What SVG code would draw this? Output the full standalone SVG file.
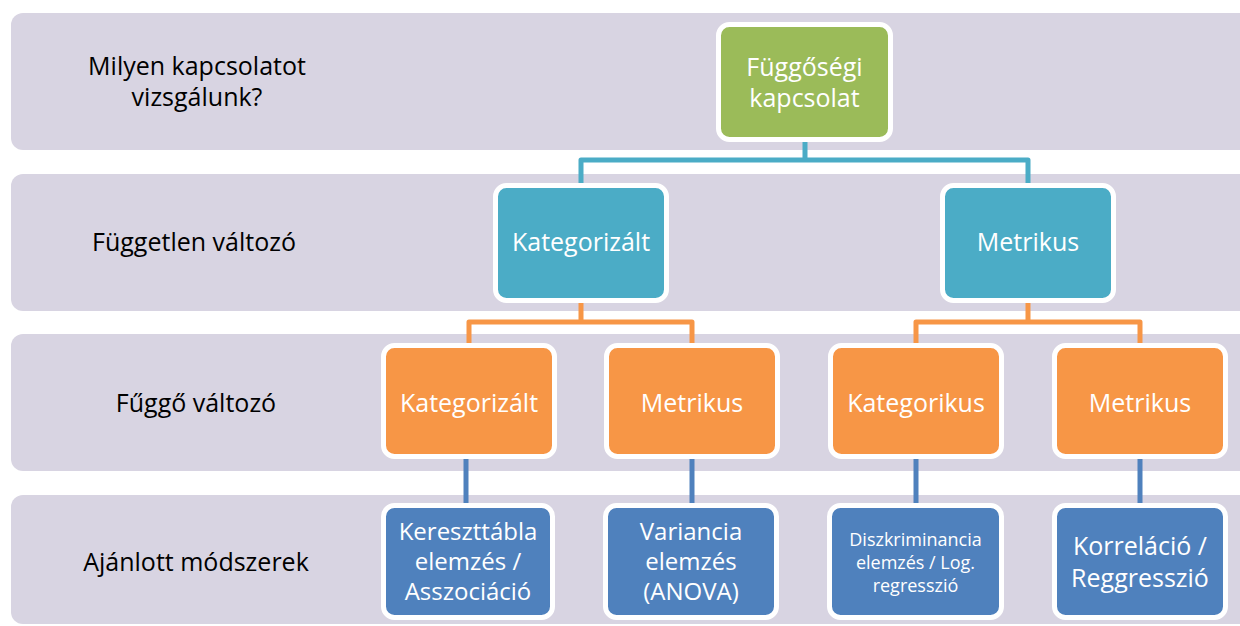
<svg xmlns="http://www.w3.org/2000/svg" width="1240" height="626" viewBox="0 0 1240 626">
<style>
.band{fill:#D8D4E2}
.lbl{font-family:"Open Sans","Liberation Sans",sans-serif;font-size:25px;fill:#000;text-anchor:middle}
.box{stroke:#fff;stroke-width:5}
.t{font-family:"Open Sans","Liberation Sans",sans-serif;font-size:25px;fill:#fff;text-anchor:middle}
.tm{font-size:24px}
.ts{font-size:18px}
.c{fill:none;stroke-width:5;stroke-linejoin:round}
</style>
<rect width="1240" height="626" fill="#fff"/>
<g id="bands">
<rect class="band" x="11" y="13" width="1250" height="137" rx="12"/>
<rect class="band" x="11" y="174" width="1250" height="137" rx="12"/>
<rect class="band" x="11" y="334" width="1250" height="137" rx="12"/>
<rect class="band" x="11" y="495" width="1250" height="129" rx="12"/>
</g>
<g id="row-labels">
<text class="lbl" x="197" y="75">Milyen kapcsolatot</text>
<text class="lbl" x="197" y="106">vizsgálunk?</text>
<text class="lbl" x="194" y="251">Független változó</text>
<text class="lbl" x="196" y="412">Fűggő változó</text>
<text class="lbl" x="196" y="571">Ajánlott módszerek</text>
</g>
<g id="connectors">
<path class="c" stroke="#4BACC6" d="M805 140V160H581V185M805 160H1028V185"/>
<path class="c" stroke="#F79646" d="M581 301V322H469V345M581 322H692V345"/>
<path class="c" stroke="#F79646" d="M1028 301V322H916V345M1028 322H1140V345"/>
<path class="c" stroke="#4F81BD" d="M466 457V505"/>
<path class="c" stroke="#4F81BD" d="M692 457V505"/>
<path class="c" stroke="#4F81BD" d="M916 457V505"/>
<path class="c" stroke="#4F81BD" d="M1140 457V505"/>
</g>
<g id="n-fuggosegi">
<rect class="box" x="718.5" y="24.5" width="172" height="115" rx="11" fill="#9BBB59"/>
<text class="t" x="804.5" y="76">Függőségi</text>
<text class="t" x="804.5" y="107">kapcsolat</text>
</g>
<g id="n-fuggetlen-kat">
<rect class="box" x="495.5" y="185.5" width="171" height="115" rx="11" fill="#4BACC6"/>
<text class="t" x="581" y="251">Kategorizált</text>
</g>
<g id="n-fuggetlen-met">
<rect class="box" x="942.5" y="185.5" width="171" height="115" rx="11" fill="#4BACC6"/>
<text class="t" x="1028" y="251">Metrikus</text>
</g>
<g id="n-fuggo-kat1">
<rect class="box" x="383.5" y="345.5" width="171" height="111" rx="11" fill="#F79646"/>
<text class="t" x="469" y="412">Kategorizált</text>
</g>
<g id="n-fuggo-met1">
<rect class="box" x="606.5" y="345.5" width="171" height="111" rx="11" fill="#F79646"/>
<text class="t" x="692" y="412">Metrikus</text>
</g>
<g id="n-fuggo-kat2">
<rect class="box" x="830.5" y="345.5" width="171" height="111" rx="11" fill="#F79646"/>
<text class="t" x="916" y="412">Kategorikus</text>
</g>
<g id="n-fuggo-met2">
<rect class="box" x="1054.5" y="345.5" width="171" height="111" rx="11" fill="#F79646"/>
<text class="t" x="1140" y="412">Metrikus</text>
</g>
<g id="m-kereszt">
<rect class="box" x="383.5" y="505.5" width="169" height="112" rx="11" fill="#4F81BD"/>
<text class="t tm" x="468" y="540">Kereszttábla</text>
<text class="t tm" x="468" y="570">elemzés /</text>
<text class="t tm" x="468" y="600">Asszociáció</text>
</g>
<g id="m-variancia">
<rect class="box" x="605.5" y="505.5" width="171" height="112" rx="11" fill="#4F81BD"/>
<text class="t tm" x="691" y="540">Variancia</text>
<text class="t tm" x="691" y="570">elemzés</text>
<text class="t tm" x="691" y="600">(ANOVA)</text>
</g>
<g id="m-diszkrim">
<rect class="box" x="829.5" y="505.5" width="172" height="112" rx="11" fill="#4F81BD"/>
<text class="t ts" x="915.5" y="546">Diszkriminancia</text>
<text class="t ts" x="915.5" y="569">elemzés / Log.</text>
<text class="t ts" x="915.5" y="592">regresszió</text>
</g>
<g id="m-korrelacio">
<rect class="box" x="1054.5" y="505.5" width="171" height="112" rx="11" fill="#4F81BD"/>
<text class="t" x="1140" y="555">Korreláció /</text>
<text class="t" x="1140" y="587">Reggresszió</text>
</g>
</svg>
